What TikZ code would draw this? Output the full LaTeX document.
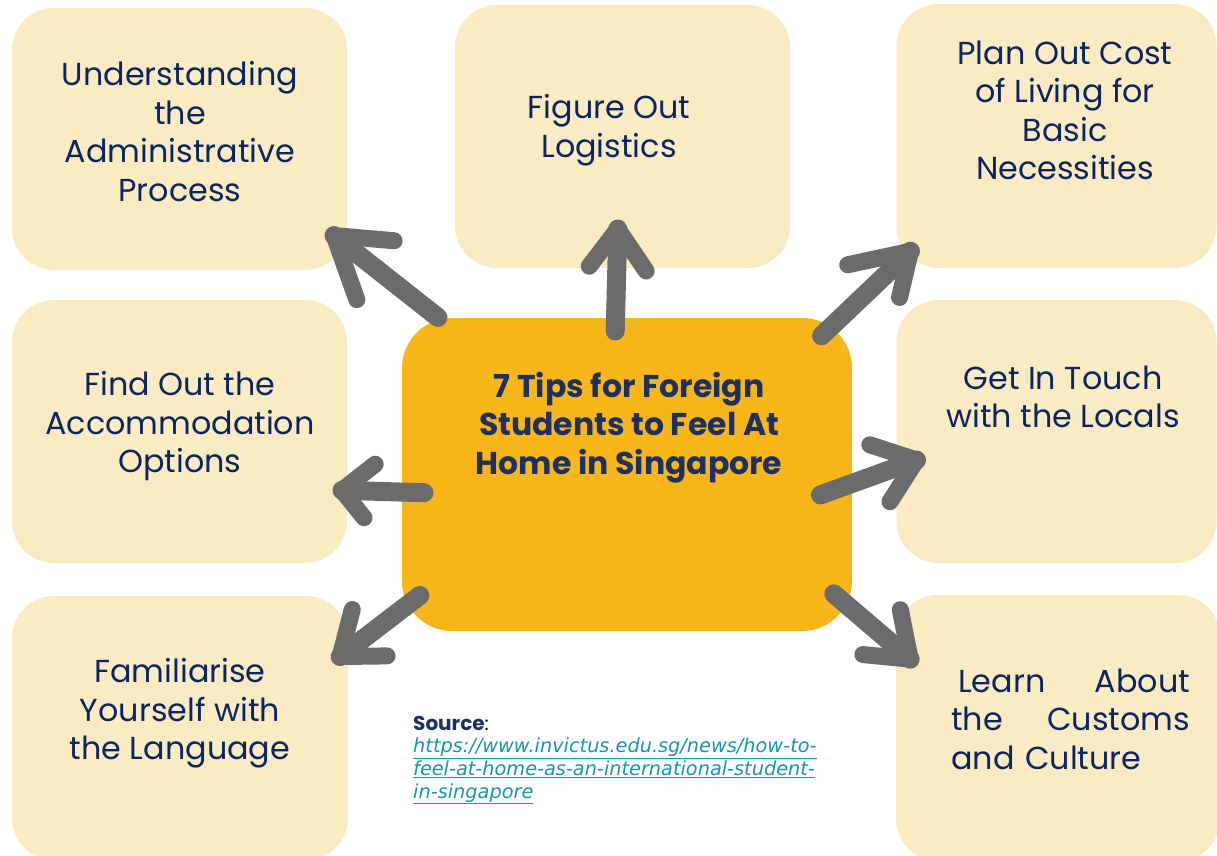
\documentclass[tikz,border=0pt]{standalone}
\usepackage{fontspec}
\setmainfont{Poppins}
\newfontfamily\urlfont{DejaVu Sans}
\usetikzlibrary{calc}
\definecolor{boxfill}{RGB}{251,235,195}
\definecolor{hubfill}{RGB}{249,182,26}
\definecolor{arrowgray}{RGB}{107,107,107}
\definecolor{boxtext}{RGB}{10,38,96}
\definecolor{hubtext}{RGB}{30,48,96}
\definecolor{urlcol}{RGB}{24,150,170}
\tikzset{
  tipbox/.style={fill=boxfill, rounded corners=42pt, inner sep=0pt},
  tiptext/.style={text=boxtext, align=center, font=\fontsize{31.8}{38.5}\selectfont, inner sep=0pt},
  hubbox/.style={fill=hubfill, rounded corners=50pt, inner sep=0pt},
  hubtxt/.style={text=hubtext, align=center, font=\fontsize{31.5}{38.5}\selectfont\bfseries, inner sep=0pt},
  arrowshaft/.style={draw=arrowgray, line width=19pt, line cap=round},
  arrowbarb/.style={draw=arrowgray, line width=17pt, line cap=round, line join=round},
}
\newcommand\sketcharrow[5]{%
  \coordinate (#1t0) at #2; \coordinate (#1h0) at #3;
  \coordinate (#1p0) at #4; \coordinate (#1q0) at #5;
  \coordinate (#1tail) at ($(#1t0)!9pt!(#1h0)$);
  \coordinate (#1tip) at ($(#1h0)!9pt!(#1t0)$);
  \coordinate (#1b1) at ($(#1p0)!8pt!(#1h0)$);
  \coordinate (#1b2) at ($(#1q0)!8pt!(#1h0)$);
  \draw[arrowshaft] (#1tail) -- (#1tip);
  \draw[arrowbarb] (#1b1) -- (#1tip) -- (#1b2);
}
\begin{document}
\begin{tikzpicture}[x=1pt,y=-1pt]
\useasboundingbox (0,0) rectangle (1217,855);
\clip (0,0) rectangle (1217,855);
\fill[white] (0,0) rectangle (1217,855);
% boxes
\node[tipbox, minimum width=335pt, minimum height=262pt] (box1) at (179.5,139) {};
\node[tipbox, minimum width=335pt, minimum height=263pt] (box2) at (622.5,136.5) {};
\node[tipbox, minimum width=320pt, minimum height=264pt] (box3) at (1056.5,136) {};
\node[tipbox, minimum width=335pt, minimum height=263pt] (box4) at (179.5,431.5) {};
\node[tipbox, minimum width=320pt, minimum height=263pt] (box5) at (1056.5,431.5) {};
\node[tipbox, minimum width=336pt, minimum height=264pt] (box6) at (180,728) {};
\node[tipbox, minimum width=324pt, minimum height=266pt] (box7) at (1058,728) {};
\node[hubbox, minimum width=450pt, minimum height=313pt] (hub) at (627,474.5) {};
% texts
\node[tiptext] (t1) at (180,131.5) {Understanding\\the\\Administrative\\Process};
\node[tiptext] (t2) at (609,130) {Figure Out\\Logistics};
\node[tiptext] (t3) at (1065,110.5) {Plan Out Cost\\of Living for\\Basic\\Necessities};
\node[tiptext] (t4) at (180,426.5) {Find Out the\\Accommodation\\Options};
\node[tiptext] (t5) at (1063,397) {Get In Touch\\with the Locals};
\node[tiptext] (t6) at (180,713.5) {Familiarise\\Yourself with\\the Language};
\node[tiptext, align=left, text width=239pt, anchor=base west] (t7) at (951,692) {\hspace*{7pt}Learn\hfill About\\the\hfill Customs\\and Culture};
\node[hubtxt] (title) at (629,427.5) {7 Tips for Foreign\\Students to Feel At\\Home in Singapore};
% source
\node[anchor=base west, inner sep=0pt, align=left, font=\fontsize{19.3}{22.6}\selectfont] (src) at (413,798)
  {\textcolor{hubtext}{\fontsize{20}{22.6}\selectfont\textbf{Source}}\textcolor{black}{:}\\
   {\urlfont\itshape\color{urlcol}\underline{https://www.invictus.edu.sg/news/how-to-}}\\
   {\urlfont\itshape\color{urlcol}\underline{feel-at-home-as-an-international-student-}}\\
   {\urlfont\itshape\color{urlcol}\underline{in-singapore}}};
% arrows
\sketcharrow{a1}{(445,323)}{(327,230)}{(402,242)}{(360,307)}
\sketcharrow{a2}{(615,340)}{(618,220)}{(585,273)}{(650,278)}
\sketcharrow{a3}{(815,342)}{(917,245)}{(840,267)}{(897,305)}
\sketcharrow{a4}{(433,493)}{(333,490)}{(382,460)}{(370,523)}
\sketcharrow{a5}{(812,498)}{(925,457)}{(862,443)}{(885,508)}
\sketcharrow{a6}{(427,590)}{(333,662)}{(355,602)}{(395,655)}
\sketcharrow{a7}{(827,588)}{(917,665)}{(898,602)}{(855,653)}
\end{tikzpicture}
\end{document}
